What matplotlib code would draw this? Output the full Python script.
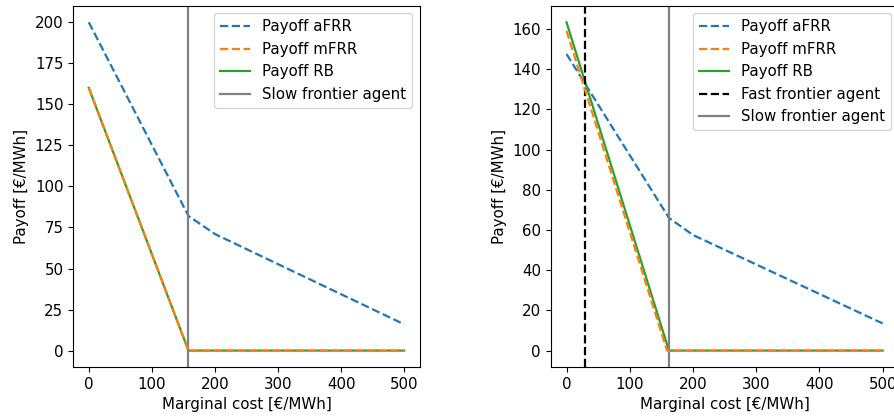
import matplotlib
matplotlib.use("Agg")
import matplotlib.pyplot as plt

# 左图：只有慢速前沿
cost_afrr_l = [0, 158, 200, 500]
payoff_afrr_l = [200, 82, 71, 16]
cost_fast_l = [0, 158, 500]
payoff_mfrr_l = [160, 0, 0]
payoff_rb_l = [160, 0, 0]
slow_frontier_l = 158

# 右图：快速与慢速前沿
cost_afrr_r = [0, 162, 200, 500]
payoff_afrr_r = [147.5, 66, 57.5, 13.5]
cost_mfrr_r = [0, 159, 500]
payoff_mfrr_r = [159, 0, 0]
cost_rb_r = [0, 162, 500]
payoff_rb_r = [163.3, 0, 0]
fast_frontier_r = 30
slow_frontier_r = 162

plt.rcParams['font.size'] = 10.8
plt.rcParams['lines.linewidth'] = 1.6

fig = plt.figure(figsize=(8.94, 4.18), dpi=100)
ax1 = fig.add_axes([0.0817, 0.122, 0.388, 0.864])
ax2 = fig.add_axes([0.616, 0.122, 0.389, 0.864])

ax1.plot(cost_afrr_l, payoff_afrr_l, '--', color='C0', label='Payoff aFRR')
ax1.plot(cost_fast_l, payoff_mfrr_l, '--', color='C1', label='Payoff mFRR', zorder=3)
ax1.plot(cost_fast_l, payoff_rb_l, '-', color='C2', label='Payoff RB', zorder=2)
ax1.axvline(slow_frontier_l, color='grey', label='Slow frontier agent')
ax1.set_xlabel('Marginal cost [€/MWh]')
ax1.set_ylabel('Payoff [€/MWh]')
ax1.legend(loc='upper right')

ax2.plot(cost_afrr_r, payoff_afrr_r, '--', color='C0', label='Payoff aFRR')
ax2.plot(cost_mfrr_r, payoff_mfrr_r, '--', color='C1', label='Payoff mFRR', zorder=3)
ax2.plot(cost_rb_r, payoff_rb_r, '-', color='C2', label='Payoff RB', zorder=2)
ax2.axvline(fast_frontier_r, color='k', linestyle='--', label='Fast frontier agent')
ax2.axvline(slow_frontier_r, color='grey', label='Slow frontier agent')
ax2.set_xlabel('Marginal cost [€/MWh]')
ax2.set_ylabel('Payoff [€/MWh]')
ax2.legend(loc='upper right')

fig.savefig('out.png', dpi=100)
